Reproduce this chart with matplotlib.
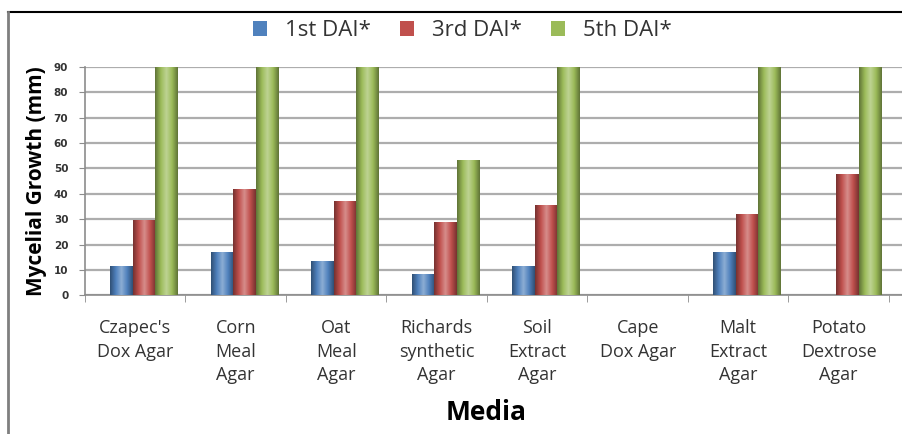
import numpy as np
import matplotlib.pyplot as plt
from matplotlib.colors import LinearSegmentedColormap, to_rgb
from matplotlib.lines import Line2D
from matplotlib.patches import Patch

plt.rcParams['font.family'] = ['Open Sans', 'DejaVu Sans']

# mycelial growth (mm) per medium, days after inoculation
media = ["Czapec's\nDox Agar", "Corn\nMeal\nAgar", "Oat\nMeal\nAgar",
         "Richards\nsynthetic\nAgar", "Soil\nExtract\nAgar", "Cape\nDox Agar",
         "Malt\nExtract\nAgar", "Potato\nDextrose\nAgar"]
dai_1 = [11.7, 17.2, 13.4, 8.5, 11.7, 0, 17.2, 0]
dai_3 = [29.6, 41.7, 37.1, 28.7, 35.4, 0, 31.9, 47.9]
dai_5 = [90, 90, 90, 53.3, 90, 0, 90, 90]
series_names = ['1st DAI*', '3rd DAI*', '5th DAI*']
colors = ['#4F81BD', '#C0504D', '#9BBB59']

fig = plt.figure(figsize=(9.03, 4.34), dpi=100)
ax = fig.add_axes([85/903, 1 - 295.3/434, 818/903, 228.6/434])

x = np.arange(len(media))
width = 0.224
offsets = [-0.138, 0.086, 0.31]


def shade(c):
    r, g, b = to_rgb(c)
    dark = (r * 0.62, g * 0.62, b * 0.62)
    light = tuple(min(1, v + (1 - v) * 0.35) for v in (r, g, b))
    return LinearSegmentedColormap.from_list('s', [dark, c, light, c, dark])


grad = np.linspace(0, 1, 64).reshape(1, -1)
for vals, off, col in zip([dai_1, dai_3, dai_5], offsets, colors):
    bars = ax.bar(x + off, vals, width, color=col, zorder=3)
    for b in bars:
        if b.get_height() <= 0:
            continue
        im = ax.imshow(grad, cmap=shade(col), aspect='auto', zorder=3,
                       extent=[b.get_x(), b.get_x() + b.get_width(), 0, b.get_height()])
        im.set_clip_path(b)

ax.set_xlim(-0.5, -0.5 + 818/100.5)
ax.set_ylim(0, 90)
ax.set_yticks(np.arange(0, 91, 10))
ax.yaxis.grid(True, color='#ADADAD', lw=1.6, zorder=0)
ax.set_axisbelow(True)

for s in ['top', 'right']:
    ax.spines[s].set_visible(False)
for s in ['left', 'bottom']:
    ax.spines[s].set_color('#8C8C8C')
    ax.spines[s].set_linewidth(1.2)

ax.tick_params(axis='y', length=4, color='#8C8C8C', labelsize=7.5, pad=8, labelcolor='#333333')
for t in ax.get_yticklabels():
    t.set_fontweight('bold')
    t.set_family('DejaVu Sans')

ax.set_xticks(x)
ax.set_xticklabels(media, fontsize=13, color='#333333', linespacing=1.4)
ax.tick_params(axis='x', length=0, pad=17)
ax.set_xticks(np.arange(-0.5, 8, 1), minor=True)
ax.tick_params(axis='x', which='minor', length=5, color='#8C8C8C')

ax.set_ylabel('Mycelial Growth (mm)', fontsize=15, fontweight='bold', labelpad=5)
fig.text(486/903, 1 - 412/434, 'Media', fontsize=19, fontweight='bold',
         ha='center', va='center')

handles = [Patch(facecolor=c, edgecolor='none') for c in colors]
fig.legend(handles, series_names, loc='center', bbox_to_anchor=(0.512, 1 - 31/434),
           ncol=3, frameon=False, fontsize=16, handlelength=0.65, handleheight=0.65,
           columnspacing=1.3, handletextpad=0.8, labelcolor='#333333')

# chart frame
fig.add_artist(Line2D([8/903, 1], [1 - 12/434] * 2, color='black', lw=1.5))
fig.add_artist(Line2D([8/903] * 2, [0, 1 - 12/434], color='#7F7F7F', lw=2))

fig.savefig('out.png', dpi=100)
